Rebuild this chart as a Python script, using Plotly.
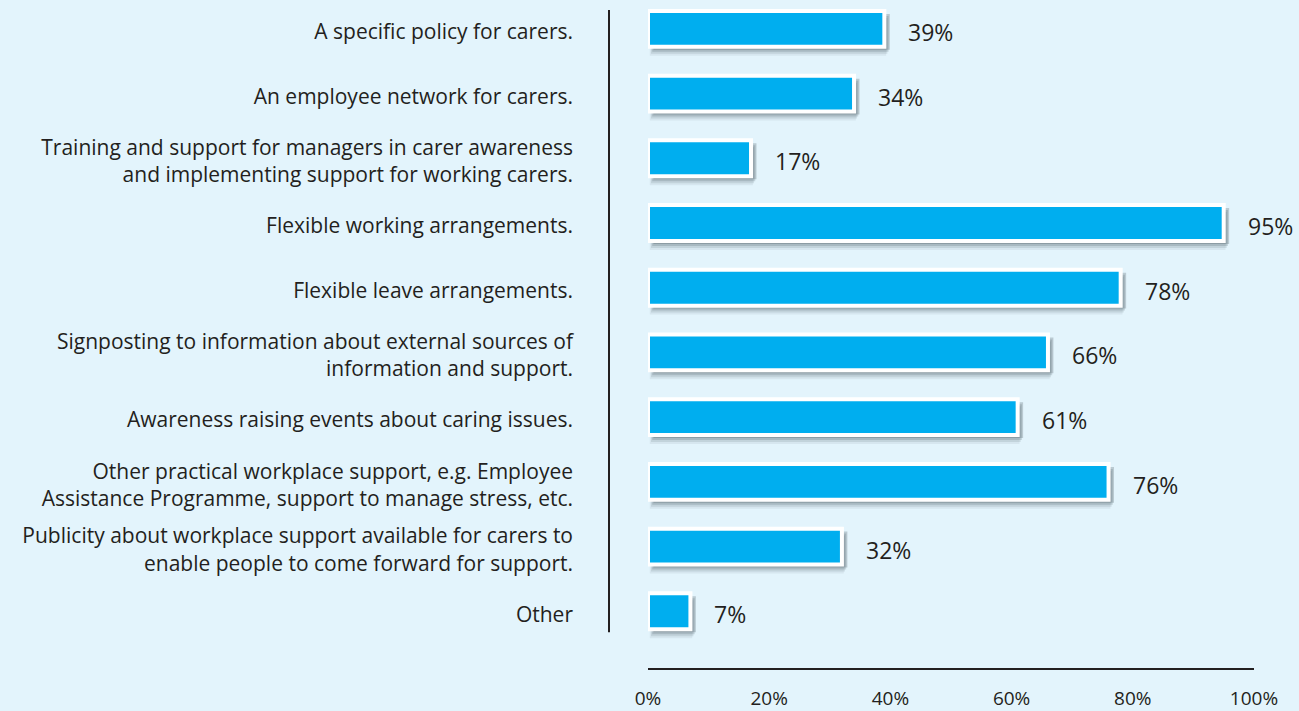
import plotly.graph_objects as go

categories = [
    "A specific policy for carers.",
    "An employee network for carers.",
    "Training and support for managers in carer awareness<br>and implementing support for working carers.",
    "Flexible working arrangements.",
    "Flexible leave arrangements.",
    "Signposting to information about external sources of<br>information and support.",
    "Awareness raising events about caring issues.",
    "Other practical workplace support, e.g. Employee<br>Assistance Programme, support to manage stress, etc.",
    "Publicity about workplace support available for carers to<br>enable people to come forward for support.",
    "Other",
]
values = [39, 34, 17, 95, 78, 66, 61, 76, 32, 7]
x_tick_vals = [0, 20, 40, 60, 80, 100]
x_tick_text = ["0%", "20%", "40%", "60%", "80%", "100%"]

BG = "#e3f4fc"
BAR = "#00aeef"
TXT = "#231f20"
FONT = "Open Sans"

W = 1299
H = 711
L, R, T, B = 648, 45, 0, 40
plot_h = H - T - B
unit = 65.0  # px per category
bw = 36 / unit
ymin = -29 / unit
ymax = ymin + plot_h / unit

fig = go.Figure()

# soft drop shadow layers
for dx, dy, a in [(0.9, 3, 0.22), (0.7, 5, 0.16), (0.5, 7, 0.11), (0.3, 9, 0.07)]:
    fig.add_trace(go.Bar(
        y=categories, x=values, base=dx, orientation="h",
        width=bw, offset=-bw / 2 + dy / unit,
        marker=dict(color=f"rgba(40,55,65,{a})", line=dict(width=0)),
        hoverinfo="skip", showlegend=False,
    ))

fig.add_trace(go.Bar(
    y=categories, x=values, orientation="h", width=bw,
    marker=dict(color=BAR, line=dict(color="white", width=4)),
    hoverinfo="skip", showlegend=False,
))

for c, v in zip(categories, values):
    fig.add_annotation(
        x=v, y=c, text=f"{v}%", showarrow=False, xanchor="left",
        xshift=22, yshift=-3, font=dict(family=FONT, size=23, color=TXT),
    )

fig.add_shape(
    type="line", xref="paper", yref="paper",
    x0=(609 - L) / (W - L - R), x1=(609 - L) / (W - L - R),
    y0=(plot_h - 635) / plot_h, y1=(plot_h - 10) / plot_h,
    line=dict(color=TXT, width=2),
)

fig.update_layout(
    width=W, height=H,
    margin=dict(l=L, r=R, t=T, b=B, pad=0),
    paper_bgcolor=BG, plot_bgcolor=BG,
    barmode="overlay",
    font=dict(family=FONT, color=TXT),
    xaxis=dict(
        range=[0, 100], tickvals=x_tick_vals, ticktext=x_tick_text,
        showgrid=False, zeroline=False, showline=True, linecolor=TXT, linewidth=2,
        ticks="", ticklabelstandoff=12, tickfont=dict(family=FONT, size=19, color=TXT),
        fixedrange=True,
    ),
    yaxis=dict(
        type="category", categoryorder="array", categoryarray=categories,
        range=[ymax, ymin], showgrid=False, zeroline=False, showline=False,
        ticks="", ticklabelstandoff=74, ticklabelshift=-3,
        tickfont=dict(family=FONT, size=21, color=TXT),
        fixedrange=True,
    ),
)

fig.write_html(
    "out.html",
    config={"displayModeBar": False},
    post_script="document.body.style.margin='0';document.body.style.background='%s';" % BG,
)
